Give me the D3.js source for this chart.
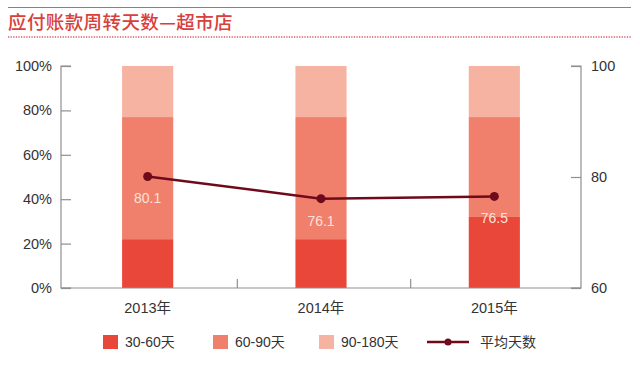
<!DOCTYPE html>
<html><head><meta charset="utf-8">
<script src="https://cdn.jsdelivr.net/npm/d3@7"></script>
<style>body{margin:0;background:#fff;}svg{display:block;font-family:"Liberation Sans",Arial,"Noto Sans CJK SC",sans-serif;}</style>
</head><body><svg id="c" width="640" height="365"></svg>
<script>
const title = "应付账款周转天数—超市店";
const categories = ["2013年","2014年","2015年"];
const seriesNames = ["30-60天","60-90天","90-180天"];
const s3060 = [22,22,32];
const s6090 = [55,55,45];
const s90180 = [23,23,23];
const avgName = "平均天数";
const avgDays = [80.1,76.1,76.5];
const leftTicks = [0,20,40,60,80,100];
const rightTicks = [60,80,100];
const colors = ["#e8473a","#f07f6b","#f6b3a1"];
const lineColor = "#6e0a1c";

const svg = d3.select("#c");
const L = 61, R = 581, T = 66, B = 288;
const x = d3.scaleBand().domain(categories).range([L,R]).paddingInner(0.705).paddingOuter(0.3525);
const yL = d3.scaleLinear().domain([0,100]).range([B,T]);
const yR = d3.scaleLinear().domain([60,100]).range([B,T]);

// title
svg.append("line").attr("x1",8).attr("x2",631).attr("y1",7.5).attr("y2",7.5).attr("stroke","#d6606a").attr("stroke-width",1.2);
svg.append("text").attr("x",8).attr("y",29).attr("fill","#d8403c").attr("font-size",18.5).attr("font-weight",500)
  .attr("letter-spacing",0.4).attr("font-family","Noto Sans CJK SC").text(title);
svg.append("line").attr("x1",8).attr("x2",631).attr("y1",37).attr("y2",37).attr("stroke","#d6606a").attr("stroke-width",1.3).attr("stroke-dasharray","1.3,1.3");

// stacked bars
const data = categories.map((c,i)=>({cat:c, a:s3060[i], b:s6090[i], c2:s90180[i]}));
const stack = d3.stack().keys(["a","b","c2"])(data);
stack.forEach((layer,k)=>{
  svg.append("g").selectAll("rect").data(layer).join("rect")
    .attr("x",d=>x(d.data.cat)).attr("width",x.bandwidth())
    .attr("y",d=>yL(d[1])).attr("height",d=>yL(d[0])-yL(d[1]))
    .attr("fill",colors[k]);
});

// axes
const axisColor = "#8f8f8f";
const gL = svg.append("g").attr("transform",`translate(${L},0)`)
  .call(d3.axisRight(yL).tickValues(leftTicks).tickSize(10).tickFormat(d=>""));
const gR = svg.append("g").attr("transform",`translate(${R},0)`)
  .call(d3.axisLeft(yR).tickValues(rightTicks).tickSize(10).tickFormat(d=>""));
[gL,gR].forEach(g=>{g.selectAll("path,line").attr("stroke",axisColor).attr("stroke-width",1.2);});
gL.select(".domain").attr("d",`M10,${T}H0V${B}H10`);
gR.select(".domain").attr("d",`M-10,${T}H0V${B}H-10`);
svg.append("line").attr("x1",L).attr("x2",R).attr("y1",B).attr("y2",B).attr("stroke",axisColor).attr("stroke-width",1.2);
// category boundary ticks
const bounds = categories.slice(1).map(c=>x(c) - x.step()*x.paddingInner()/2 + 3);
svg.append("g").selectAll("line").data(bounds).join("line")
  .attr("x1",d=>d).attr("x2",d=>d).attr("y1",B).attr("y2",B-9).attr("stroke",axisColor).attr("stroke-width",1.2);

svg.append("g").selectAll("text").data(leftTicks).join("text")
  .attr("x",52).attr("y",d=>yL(d)+5).attr("text-anchor","end").attr("font-size",14.5).attr("fill","#333")
  .text(d=>d+"%");
svg.append("g").selectAll("text").data(rightTicks).join("text")
  .attr("x",591).attr("y",d=>yR(d)+5).attr("font-size",14.5).attr("fill","#333")
  .text(d=>d);
svg.append("g").selectAll("text").data(categories).join("text")
  .attr("x",d=>x(d)+x.bandwidth()/2).attr("y",313).attr("text-anchor","middle").attr("font-size",14.5).attr("fill","#333")
  .text(d=>d);

// line
const pts = categories.map((c,i)=>[x(c)+x.bandwidth()/2, yR(avgDays[i])]);
svg.append("path").attr("d",d3.line()(pts)).attr("fill","none").attr("stroke",lineColor).attr("stroke-width",2.5);
svg.append("g").selectAll("circle").data(pts).join("circle").attr("cx",d=>d[0]).attr("cy",d=>d[1]).attr("r",4.5).attr("fill",lineColor);
svg.append("g").selectAll("text").data(avgDays).join("text")
  .attr("x",(d,i)=>pts[i][0]).attr("y",(d,i)=>pts[i][1]+27).attr("text-anchor","middle").attr("font-size",14).attr("fill","#fbe3dc")
  .text(d=>d.toFixed(1));

// legend
const lg = svg.append("g");
const legX = [103,213,319];
seriesNames.forEach((n,i)=>{
  lg.append("rect").attr("x",legX[i]).attr("y",335).attr("width",15).attr("height",14).attr("fill",colors[i]);
  lg.append("text").attr("x",legX[i]+22).attr("y",347).attr("font-size",14).attr("fill","#333").text(n);
});
lg.append("line").attr("x1",427).attr("x2",469).attr("y1",342).attr("y2",342).attr("stroke",lineColor).attr("stroke-width",2.5);
lg.append("circle").attr("cx",448).attr("cy",342).attr("r",3.5).attr("fill",lineColor);
lg.append("text").attr("x",480).attr("y",347).attr("font-size",14).attr("fill","#333").text(avgName);
</script></body></html>
